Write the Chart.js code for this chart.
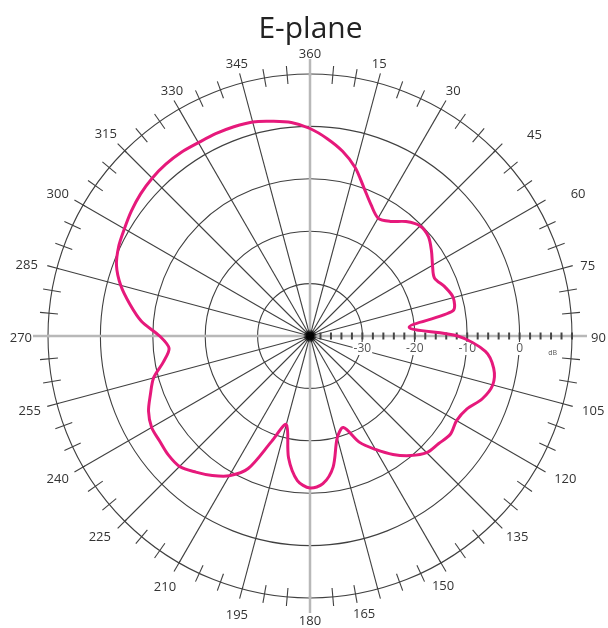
<!DOCTYPE html>
<html><head><meta charset="utf-8">
<script src="https://cdn.jsdelivr.net/npm/chart.js@4.4.1/dist/chart.umd.min.js"></script>
<style>html,body{margin:0;padding:0;background:#fff}#wrap{width:608px;height:628px}</style>
</head><body><div id="wrap"><canvas id="c" width="608" height="628"></canvas></div>
<script>
// Angles (degrees, clockwise from top), one category every 5 degrees
const angleCategories = ['0','5','10','15','20','25','30','35','40','45','50','55','60','65','70','75','80','85','90','95',
  '100','105','110','115','120','125','130','135','140','145','150','155','160','165','170','175','180','185','190','195',
  '200','205','210','215','220','225','230','235','240','245','250','255','260','265','270','275','280','285','290','295',
  '300','305','310','315','320','325','330','335','340','345','350','355'];
// E-plane relative gain (dB)
const ePlaneDb = [
  -0.4, -2.2, -4.2, -6.7, -9.9, -12.4, -14.0, -13.3, -11.5, -10.3,
  -10.5, -11.7, -13.0, -13.8, -12.6, -11.7, -12.3, -21.0, -11.8, -6.4,
  -4.4, -3.9, -5.0, -7.0, -7.7, -7.3, -8.0, -8.5, -10.2, -12.4,
  -15.0, -17.6, -21.4, -19.9, -14.6, -11.7, -11.0, -12.3, -16.4, -22.5,
  -18.6, -12.1, -9.2, -7.5, -6.1, -4.8, -4.7, -5.0, -5.1, -6.0,
  -7.6, -9.1, -11.6, -13.0, -11.3, -7.7, -5.1, -2.6, -0.7, 0.3,
  0.9, 1.6, 2.2, 2.6, 2.8, 2.8, 2.6, 2.6, 2.5, 2.3,
  1.6, 0.9
];
// Angle tick labels every 15 degrees
const angleTickLabels = ['360','15','30','45','60','75','90','105','120','135','150','165',
  '180','195','210','225','240','255','270','285','300','315','330','345'];
// dB scale labels along the 90-degree axis
const dbTickValues = [-30, -20, -10, 0];
const dbTickLabels = ['-30', '-20', '-10', '0'];
const dbRulerTicks = [-38,-36,-34,-32,-30,-28,-26,-24,-22,-20,-18,-16,-14,-12,-10,-8,-6,-4,-2,0,2,4,6,8,10];

const GRID = '#404040';
const AXIS = '#b8b8b8';
// small hand-placement nudges of the angle labels, as in the original artwork
const labelNudgeX = [0,-5,0,22,20,1,2,3,4,2,-12,-21,0,2,0,-5,-1,0,1,-3,-1,1,7,2];
const labelNudgeY = [2,2,1,0,0,4,2,2,2,1,5,4,2,5,6,1,2,2,2,3,0,-1,1,2];

const polarDecor = {
  id: 'polarDecor',
  beforeDatasetsDraw(chart) {
    const s = chart.scales.r, ctx = chart.ctx, R = s.drawingArea;
    ctx.save();
    // spoke extensions and 5-degree ticks on the outer circle
    angleCategories.forEach((lab, i) => {
      const major = i % 3 === 0, axis = i % 18 === 0;
      const a = s.getPointPosition(i, major ? R - 2 : R - 9);
      const b = s.getPointPosition(i, R + (axis ? 15 : (major ? 10 : 9)));
      ctx.beginPath();
      ctx.strokeStyle = axis ? AXIS : GRID;
      ctx.lineWidth = axis ? 2.5 : 1.1;
      ctx.moveTo(a.x, a.y); ctx.lineTo(b.x, b.y); ctx.stroke();
    });
    // dB ruler along 90-degree axis
    const axisIndex = 18;
    ctx.strokeStyle = '#444';
    ctx.lineWidth = 2;
    dbRulerTicks.forEach(v => {
      const p = s.getPointPositionForValue(axisIndex, v);
      ctx.beginPath(); ctx.moveTo(p.x, p.y - 3.5); ctx.lineTo(p.x, p.y + 3.5); ctx.stroke();
    });
    // dB labels
    ctx.font = '12px "Open Sans"';
    ctx.textAlign = 'center'; ctx.textBaseline = 'middle';
    dbTickValues.forEach((v, k) => {
      const p = s.getPointPositionForValue(axisIndex, v);
      const w = ctx.measureText(dbTickLabels[k]).width;
      ctx.fillStyle = '#fff';
      ctx.fillRect(p.x - w / 2 - 1, p.y + 6, w + 2, 13);
      ctx.fillStyle = '#555';
      ctx.fillText(dbTickLabels[k], p.x, p.y + 12.5);
    });
    const pdb = s.getPointPositionForValue(axisIndex, 6.3);
    ctx.font = '7px "Open Sans"';
    ctx.fillText('dB', pdb.x, pdb.y + 17);
    // angle labels
    ctx.font = '13px "Open Sans"';
    ctx.fillStyle = '#333';
    angleTickLabels.forEach((t, k) => {
      const i = k * 3;
      const th = i * 5 * Math.PI / 180;
      const p = s.getPointPosition(i, R + 16);
      const w = ctx.measureText(t).width;
      ctx.fillText(t, p.x + Math.sin(th) * (w / 2 + 1) + labelNudgeX[k], p.y - Math.cos(th) * 5.5 + labelNudgeY[k]);
    });
    // center blob
    const g = ctx.createRadialGradient(s.xCenter, s.yCenter, 0, s.xCenter, s.yCenter, 7);
    g.addColorStop(0, 'rgba(0,0,0,1)');
    g.addColorStop(0.55, 'rgba(0,0,0,0.95)');
    g.addColorStop(1, 'rgba(0,0,0,0)');
    ctx.fillStyle = g;
    ctx.beginPath(); ctx.arc(s.xCenter, s.yCenter, 7, 0, Math.PI * 2); ctx.fill();
    ctx.restore();
  }
};

new Chart(document.getElementById('c'), {
  type: 'radar',
  data: {
    labels: angleCategories,
    datasets: [{
      label: 'E-plane',
      data: ePlaneDb,
      borderColor: '#e6197b',
      borderWidth: 3,
      pointRadius: 0,
      pointHoverRadius: 0,
      fill: false,
      tension: 0.3,
      borderJoinStyle: 'round'
    }]
  },
  options: {
    responsive: false,
    animation: false,
    events: [],
    layout: { padding: { left: 48, right: 35, top: 0, bottom: 29 } },
    plugins: {
      legend: { display: false },
      tooltip: { enabled: false },
      title: {
        display: true,
        text: 'E-plane',
        color: '#222',
        font: { family: 'Open Sans', size: 30, weight: 'normal', lineHeight: 1.2 },
        padding: { top: 11, bottom: 27 }
      }
    },
    scales: {
      r: {
        min: -40, max: 10,
        ticks: { display: false, stepSize: 10 },
        pointLabels: { display: false },
        grid: { circular: true, color: GRID, lineWidth: 1.1 },
        angleLines: {
          display: true,
          color: ctx => (ctx.index % 18 === 0 ? AXIS : (ctx.index % 3 === 0 ? GRID : 'rgba(0,0,0,0)')),
          lineWidth: ctx => (ctx.index % 18 === 0 ? 2.5 : (ctx.index % 3 === 0 ? 1.1 : 0))
        }
      }
    }
  },
  plugins: [polarDecor]
});
</script>
</body></html>
